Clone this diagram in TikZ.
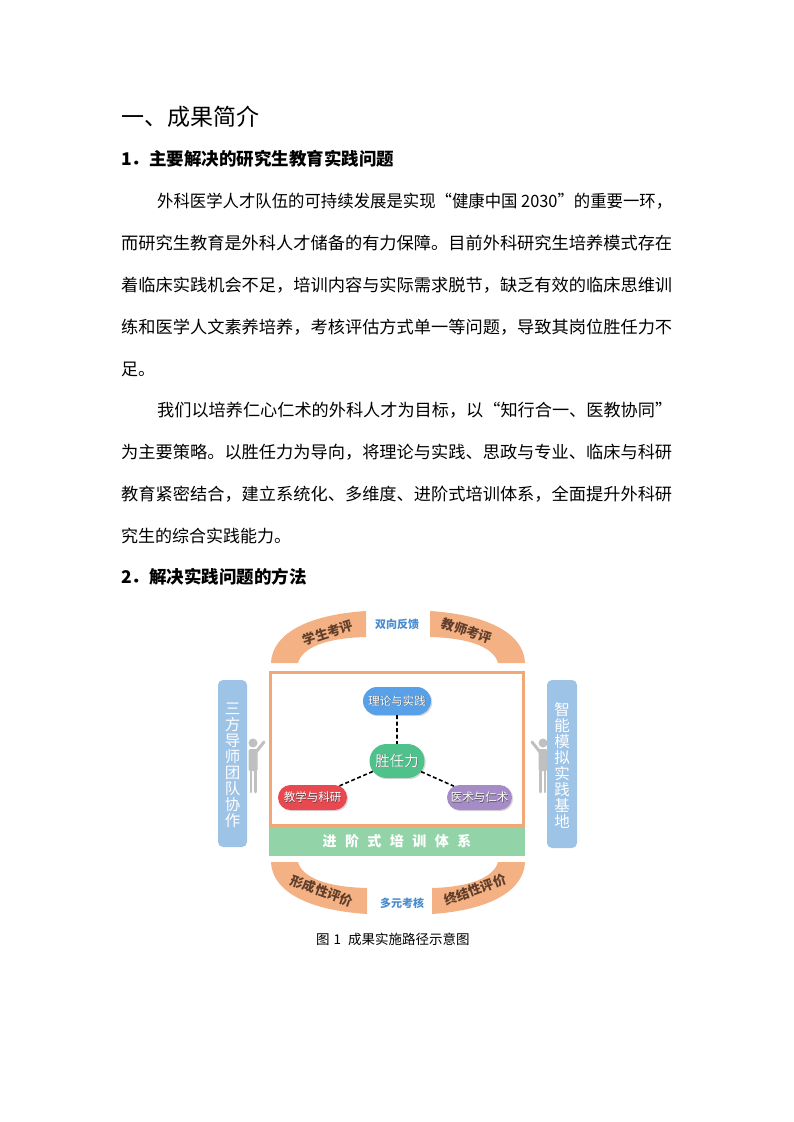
\documentclass[tikz,border=0pt]{standalone}
\usepackage{fontspec}
\usepackage{graphicx}
\setmainfont{Noto Sans CJK SC}
\usetikzlibrary{shapes.misc,shadows}
\definecolor{bandc}{RGB}{244,177,131}
\definecolor{boxc}{RGB}{241,168,118}
\definecolor{sidec}{RGB}{157,195,230}
\definecolor{greenbar}{RGB}{146,212,168}
\definecolor{pblue}{RGB}{88,160,232}
\definecolor{pgreen}{RGB}{78,194,138}
\definecolor{pred}{RGB}{232,72,80}
\definecolor{ppurple}{RGB}{166,140,198}
\definecolor{bandtxt}{RGB}{96,62,44}
\definecolor{bluetxt}{RGB}{72,140,208}
\definecolor{figc}{RGB}{192,192,192}
\newcommand\fitl[2]{\resizebox{#1}{\height}{#2}}
\newcommand\tsh[1]{\makebox[0pt][l]{\hspace{0.6pt}\raisebox{-0.6pt}{\textcolor{black!70}{#1}}}#1}
\newcommand\fsz[1]{\fontsize{#1}{#1}\selectfont}
\begin{document}
\begin{tikzpicture}[x=1pt,y=-1pt,
  txt/.style={anchor=west,inner sep=0pt,font=\fsz{17}},
  band/.style={fill=bandc},
  bandlabel/.style={inner sep=0pt,text=bandtxt,font=\bfseries\fsz{13}},
  bluelabel/.style={inner sep=0pt,text=bluetxt,font=\bfseries\fsz{11}},
  pill/.style={rounded rectangle,inner sep=0pt,text=white,font=\fsz{11.5},
    drop shadow={opacity=0.3,shadow xshift=1.2pt,shadow yshift=-1.2pt}},
  sidebar/.style={fill=sidec,rounded corners=5pt},
  sidetxt/.style={inner sep=0pt,align=center,text=white,font={\fontsize{15.5}{16}\selectfont}},
  conn/.style={draw=black,line width=1.6pt,dash pattern=on 4pt off 2.5pt},
  fig/.style={draw=figc,line cap=round}
]
\fill[white] (0,0) rectangle (793,1122);
\useasboundingbox (0,0) rectangle (793,1122);

% ---- text ----
\node[txt,font=\fsz{23}] (h1) at (121,117) {一、成果简介};
\node[txt,font=\bfseries\fsz{17.5}] (h11) at (121,159) {1．主要解决的研究生教育实践问题};
\node[txt] (p1a) at (157,201) {\fitl{515pt}{外科医学人才队伍的可持续发展是实现“健康中国 2030”的重要一环，}};
\node[txt] (p1b) at (121,243) {\fitl{551pt}{而研究生教育是外科人才储备的有力保障。目前外科研究生培养模式存在}};
\node[txt] (p1c) at (121,285) {\fitl{551pt}{着临床实践机会不足，培训内容与实际需求脱节，缺乏有效的临床思维训}};
\node[txt] (p1d) at (121,327) {\fitl{551pt}{练和医学人文素养培养，考核评估方式单一等问题，导致其岗位胜任力不}};
\node[txt] (p1e) at (121,369) {足。};
\node[txt] (p2a) at (157,410) {\fitl{515pt}{我们以培养仁心仁术的外科人才为目标，以“知行合一、医教协同”}};
\node[txt] (p2b) at (121,452) {\fitl{551pt}{为主要策略。以胜任力为导向，将理论与实践、思政与专业、临床与科研}};
\node[txt] (p2c) at (121,494) {\fitl{551pt}{教育紧密结合，建立系统化、多维度、进阶式培训体系，全面提升外科研}};
\node[txt] (p2d) at (121,536) {究生的综合实践能力。};
\node[txt,font=\bfseries\fsz{17.5}] (h12) at (121,577) {2．解决实践问题的方法};
\node[txt,font=\fsz{13.5}] (cap) at (316,939) {图\hspace{4pt}1\hspace{7pt}成果实施路径示意图};

% ---- arc bands ----
\fill[band] (271,663) .. controls (272,635) and (305,615) .. (366,611) -- (366,637) .. controls (325,638) and (302,648) .. (298,663) -- cycle;
\fill[band] (525,663) .. controls (524,635) and (491,615) .. (430,611) -- (430,637) .. controls (471,638) and (494,648) .. (498,663) -- cycle;
\fill[band] (271,862) .. controls (272,890) and (305,910) .. (367,914) -- (367,888) .. controls (325,887) and (302,877) .. (298,862) -- cycle;
\fill[band] (525,862) .. controls (524,890) and (491,910) .. (432,914) -- (432,888) .. controls (471,887) and (494,877) .. (498,862) -- cycle;
\node[bandlabel,rotate=18] (xs) at (328,633) {学生考评};
\node[bandlabel,rotate=-18] (js) at (467,631) {教师考评};
\node[bandlabel,rotate=-20] (xc) at (322,891) {形成性评价};
\node[bandlabel,rotate=20] (zj) at (475,890) {终结性评价};
\node[bluelabel] (sx) at (397,624) {双向反馈};
\node[bluelabel] (dy) at (402,903) {多元考核};

% ---- figures ----
\fill[figc] (253,743) circle (4.5);
\fill[figc,rounded corners=1.5pt] (248.5,749) rectangle (257.5,771);
\draw[fig,line width=2.6pt] (251,770) -- (251,792);
\draw[fig,line width=2.6pt] (255.5,770) -- (255.5,792);
\draw[fig,line width=3pt] (256,752) -- (264,742);
\fill[figc] (543,743) circle (4.5);
\fill[figc,rounded corners=1.5pt] (538.5,749) rectangle (547.5,771);
\draw[fig,line width=2.6pt] (540.5,770) -- (540.5,792);
\draw[fig,line width=2.6pt] (545,770) -- (545,792);
\draw[fig,line width=3pt] (540,752) -- (532,742);

% ---- side bars ----
\fill[sidebar] (218,680) rectangle (247,847);
\fill[sidebar] (547,680) rectangle (577,848);
\node[sidetxt] (sf) at (232.5,765) {三\\方\\导\\师\\团\\队\\协\\作};
\node[sidetxt] (zn) at (562,765) {智\\能\\模\\拟\\实\\践\\基\\地};

% ---- main box ----
\fill[greenbar] (269,826) rectangle (525,856);
\draw[boxc,line width=3pt] (270.5,672.5) rectangle (523.5,825.5);
\node[inner sep=0pt,text=white,font=\bfseries\fsz{14}] (jj) at (397,841)
  {进\hspace{8.5pt}阶\hspace{8.5pt}式\hspace{8.5pt}培\hspace{8.5pt}训\hspace{8.5pt}体\hspace{8.5pt}系};

% ---- inner nodes ----
\node[pill,fill=pblue,minimum width=68pt,minimum height=28pt] (ll) at (397,701) {\tsh{理论与实践}};
\node[pill,fill=pgreen,minimum width=55pt,minimum height=34pt,font=\fsz{14.5}] (sr) at (397,761) {\tsh{胜任力}};
\node[pill,fill=pred,minimum width=69pt,minimum height=25pt] (jx) at (312.5,797.5) {\tsh{教学与科研}};
\node[pill,fill=ppurple,minimum width=65pt,minimum height=25pt] (ys) at (479.5,797.5) {\tsh{医术与仁术}};
\draw[conn] (ll) -- (sr);
\draw[conn] (sr) -- (jx);
\draw[conn] (sr) -- (ys);
\end{tikzpicture}
\end{document}
